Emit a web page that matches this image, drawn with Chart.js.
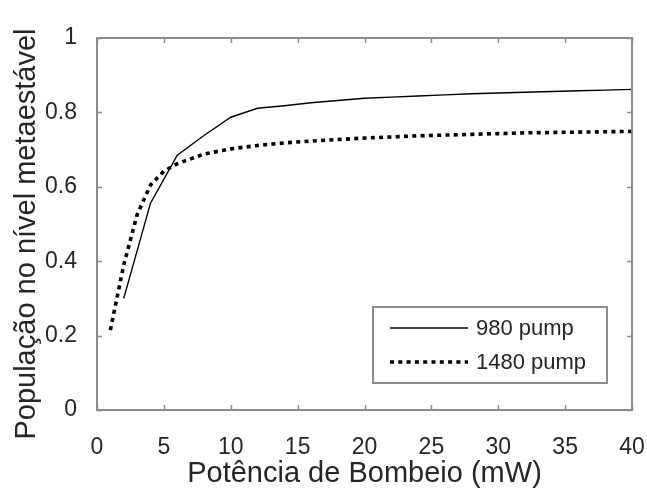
<!DOCTYPE html>
<html>
<head>
<meta charset="utf-8">
<script src="https://cdn.jsdelivr.net/npm/chart.js@4"></script>
<style>
html,body{margin:0;padding:0;background:#fff;}
canvas{display:block;}
</style>
</head>
<body>
<canvas id="c" width="647" height="492"></canvas>
<script>
const xTickStep = 5;
const yTickStep = 0.2;
const xTitle = 'Potência de Bombeio (mW)';
const yTitle = 'População no nível metaestável';
const seriesNames = ['980 pump', '1480 pump'];

const power980 = [2, 4, 6, 8, 10, 12, 14, 16, 18, 20, 22, 24, 26, 28, 30, 32, 34, 36, 38, 40];
const pop980 = [0.30, 0.556, 0.685, 0.738, 0.787, 0.811, 0.818, 0.826, 0.832, 0.838, 0.841, 0.844, 0.847, 0.850, 0.852, 0.854, 0.856, 0.858, 0.860, 0.862];

const power1480 = [1, 2, 3, 4, 5, 6, 7, 8, 10, 12, 14, 16, 18, 20, 22, 24, 26, 28, 30, 32, 34, 36, 38, 40];
const pop1480 = [0.215, 0.39, 0.525, 0.605, 0.642, 0.662, 0.675, 0.688, 0.702, 0.711, 0.718, 0.723, 0.727, 0.731, 0.734, 0.737, 0.739, 0.741, 0.743, 0.745, 0.746, 0.747, 0.748, 0.749];

const toPts = (xs, ys) => xs.map((x, i) => ({x: x, y: ys[i]}));

const FONT = "'Liberation Sans', Arial, Helvetica, sans-serif";
const TXT = '#262626';
const AX = '#8c8c8c';

const framePlugin = {
  id: 'frame',
  afterDraw(chart) {
    const ctx = chart.ctx, a = chart.chartArea;
    const xs = chart.scales.x, ys = chart.scales.y;
    ctx.save();
    ctx.strokeStyle = AX;
    ctx.lineWidth = 2;
    ctx.strokeRect(a.left, a.top, a.right - a.left, a.bottom - a.top);
    ctx.lineWidth = 1.5;
    const tl = 5;
    ctx.beginPath();
    xs.ticks.forEach(t => {
      const px = Math.round(xs.getPixelForValue(t.value)) + 0.5;
      ctx.moveTo(px, a.bottom); ctx.lineTo(px, a.bottom - tl);
      ctx.moveTo(px, a.top); ctx.lineTo(px, a.top + tl);
    });
    ys.ticks.forEach(t => {
      const py = Math.round(ys.getPixelForValue(t.value)) + 0.5;
      ctx.moveTo(a.left, py); ctx.lineTo(a.left + tl, py);
      ctx.moveTo(a.right, py); ctx.lineTo(a.right - tl, py);
    });
    ctx.stroke();

    // y axis title, drawn rotated
    ctx.save();
    ctx.translate(35, (a.top + a.bottom) / 2 + 10);
    ctx.rotate(-Math.PI / 2);
    ctx.fillStyle = TXT;
    ctx.font = '29px ' + FONT;
    ctx.textAlign = 'center';
    ctx.textBaseline = 'alphabetic';
    ctx.fillText(yTitle, 0, 0);
    ctx.restore();

    // legend inside plot (lower right)
    const bx = a.right - 259, by = a.bottom - 103, bw = 234, bh = 76;
    ctx.fillStyle = '#fff';
    ctx.fillRect(bx, by, bw, bh);
    ctx.strokeStyle = AX;
    ctx.lineWidth = 2;
    ctx.strokeRect(bx, by, bw, bh);
    const ds = chart.data.datasets;
    ds.forEach((d, i) => {
      const ly = by + 21 + i * 34;
      ctx.beginPath();
      ctx.strokeStyle = d.borderColor;
      ctx.lineWidth = d.borderWidth;
      ctx.setLineDash(d.borderDash || []);
      ctx.moveTo(bx + 17, ly);
      ctx.lineTo(bx + 95, ly);
      ctx.stroke();
      ctx.setLineDash([]);
      ctx.fillStyle = TXT;
      ctx.font = '22px ' + FONT;
      ctx.textBaseline = 'middle';
      ctx.textAlign = 'left';
      ctx.fillText(d.label, bx + 103, ly + 1);
    });
    ctx.restore();
  }
};

new Chart(document.getElementById('c'), {
  type: 'line',
  data: {
    datasets: [
      {label: seriesNames[0], data: toPts(power980, pop980), borderColor: '#000', borderWidth: 1.4, pointRadius: 0, fill: false, tension: 0},
      {label: seriesNames[1], data: toPts(power1480, pop1480), borderColor: '#000', borderWidth: 3.6, borderDash: [4, 4.3], borderCapStyle: 'butt', pointRadius: 0, fill: false, tension: 0}
    ]
  },
  options: {
    responsive: false,
    devicePixelRatio: 1,
    animation: false,
    layout: {padding: {left: 0, right: 15, top: 38, bottom: 0}},
    plugins: {legend: {display: false}, tooltip: {enabled: false}},
    scales: {
      x: {
        type: 'linear', min: 0, max: 40,
        afterFit: s => { s.height = 82; s.paddingLeft = 0; s.paddingRight = 0; },
        grid: {display: false},
        border: {display: false},
        ticks: {stepSize: xTickStep, color: TXT, font: {family: FONT, size: 23}, padding: 16, maxRotation: 0},
        title: {display: true, text: xTitle, color: TXT, font: {family: FONT, size: 29}, padding: {top: 0, bottom: 1}}
      },
      y: {
        type: 'linear', min: 0, max: 1,
        afterFit: s => { s.width = 97; s.paddingTop = 0; s.paddingBottom = 0; },
        grid: {display: false},
        border: {display: false},
        ticks: {stepSize: yTickStep, color: TXT, font: {family: FONT, size: 23}, padding: 12,
          callback: v => (Math.round(v * 10) / 10).toString()},
        title: {display: false}
      }
    }
  },
  plugins: [framePlugin]
});
</script>
</body>
</html>
